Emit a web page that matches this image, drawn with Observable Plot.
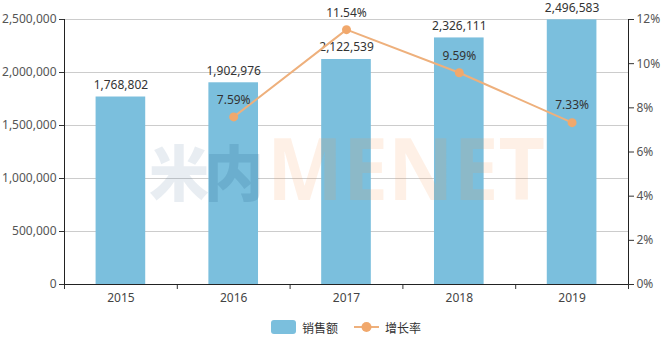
<!DOCTYPE html>
<html><head><meta charset="utf-8">
<script src="https://cdn.jsdelivr.net/npm/d3@7"></script>
<script src="https://cdn.jsdelivr.net/npm/@observablehq/plot@0.6"></script>
<style>
body{margin:0;background:#fff;font-family:"Noto Sans","Noto Sans CJK SC",sans-serif;}
#legend{display:flex;justify-content:center;align-items:center;height:30px;padding-left:28px;box-sizing:border-box;font-size:12px;color:#333;font-family:"Noto Sans CJK SC","Noto Sans",sans-serif;}
.item{display:flex;align-items:center;margin:0 8px;}
</style></head>
<body>
<div id="chart"></div>
<div id="legend"></div>
<script>
const years = [2015, 2016, 2017, 2018, 2019];
const sales = [1768802, 1902976, 2122539, 2326111, 2496583];
const growth = [null, 7.59, 11.54, 9.59, 7.33];
const leftTicks = [0, 500000, 1000000, 1500000, 2000000, 2500000];
const rightTicks = [0, 2, 4, 6, 8, 10, 12];
const seriesNames = ["销售额", "增长率"];

const barColor = "#7bbfdd";
const lineColor = "#eeb07c";
const dotColor = "#f1a86c";
const k = 2500000 / 12;
const data = years.map((y, i) => ({year: y, sales: sales[i], growth: growth[i]}));
const gdata = data.filter(d => d.growth != null);
const edges = years.map(y => y - 0.5).concat([years[years.length - 1] + 0.5]);
const fmt = d3.format(",");

const chart = Plot.plot({
  width: 664, height: 312,
  marginLeft: 64, marginRight: 36, marginTop: 19, marginBottom: 28,
  style: {fontFamily: "Noto Sans", fontSize: "12px", background: "white"},
  x: {type: "linear", domain: [edges[0], edges[edges.length - 1]]},
  y: {domain: [0, 2500000]},
  marks: [
    Plot.gridY(leftTicks, {stroke: "#cccccc", strokeOpacity: 1}),
    Plot.rectY(data, {x1: d => d.year - 0.22, x2: d => d.year + 0.22, y: "sales", fill: barColor}),
    Plot.axisY({ticks: leftTicks, tickFormat: fmt, tickSize: 5, tickPadding: 3, stroke: "#333", fill: "#555", label: null}),
    Plot.axisY({anchor: "right", ticks: rightTicks.map(v => v * k), tickFormat: d => Math.round(d / k) + "%", tickSize: 5, tickPadding: 3, stroke: "#333", fill: "#555", label: null}),
    Plot.axisX({ticks: years, tickFormat: d => String(d), tickSize: 0, tickPadding: 9, fill: "#444", label: null}),
    Plot.axisX({ticks: edges, tickFormat: () => "", tickSize: 5, stroke: "#333", label: null}),
    Plot.ruleY([0], {stroke: "#222"}),
    Plot.ruleX([edges[0], edges[edges.length - 1]], {stroke: "#222"}),
    Plot.text(data, {x: "year", y: "sales", text: d => fmt(d.sales), dy: -12, fill: "#333", fontSize: 12}),
    Plot.line(gdata, {x: "year", y: d => d.growth * k, stroke: lineColor, strokeWidth: 2}),
    Plot.dot(gdata, {x: "year", y: d => d.growth * k, r: 4.5, fill: dotColor, stroke: "none"}),
    Plot.text(gdata, {x: "year", y: d => d.growth * k, text: d => d.growth.toFixed(2) + "%", dy: -17, fill: "#333", fontSize: 12})
  ]
});
document.getElementById("chart").appendChild(chart);

// watermark
const svg = d3.select(chart);
const wm = svg.append("g").attr("pointer-events", "none").attr("text-anchor", "start");
wm.append("text").text("米").attr("x", 149).attr("y", 169).attr("dominant-baseline", "central")
  .attr("font-family", "Noto Sans CJK SC").attr("font-weight", "900").attr("font-size", 60)
  .attr("fill", "rgb(90,130,160)").attr("fill-opacity", 0.14);
wm.append("text").text("内").attr("x", 204).attr("y", 169).attr("dominant-baseline", "central")
  .attr("font-family", "Noto Sans CJK SC").attr("font-weight", "900").attr("font-size", 60)
  .attr("fill", "rgb(40,100,140)").attr("fill-opacity", 0.18);
wm.append("text").text("MENET").attr("x", 267).attr("y", 200)
  .attr("font-family", "Noto Sans").attr("font-weight", "bold").attr("font-size", 86)
  .attr("textLength", 278).attr("lengthAdjust", "spacingAndGlyphs")
  .attr("fill", "rgb(245,150,80)").attr("fill-opacity", 0.14);

// legend
const lg = d3.select("#legend");
const i1 = lg.append("div").attr("class", "item");
i1.append("div").style("width", "25px").style("height", "14px").style("border-radius", "3px").style("background", barColor).style("margin-right", "6px");
i1.append("span").text(seriesNames[0]);
const i2 = lg.append("div").attr("class", "item");
const s2 = i2.append("svg").attr("width", 25).attr("height", 14).style("margin-right", "6px");
s2.append("line").attr("x1", 0).attr("x2", 25).attr("y1", 7).attr("y2", 7).attr("stroke", lineColor).attr("stroke-width", 2);
s2.append("circle").attr("cx", 12.5).attr("cy", 7).attr("r", 5).attr("fill", dotColor);
i2.append("span").text(seriesNames[1]);
</script>
</body></html>
